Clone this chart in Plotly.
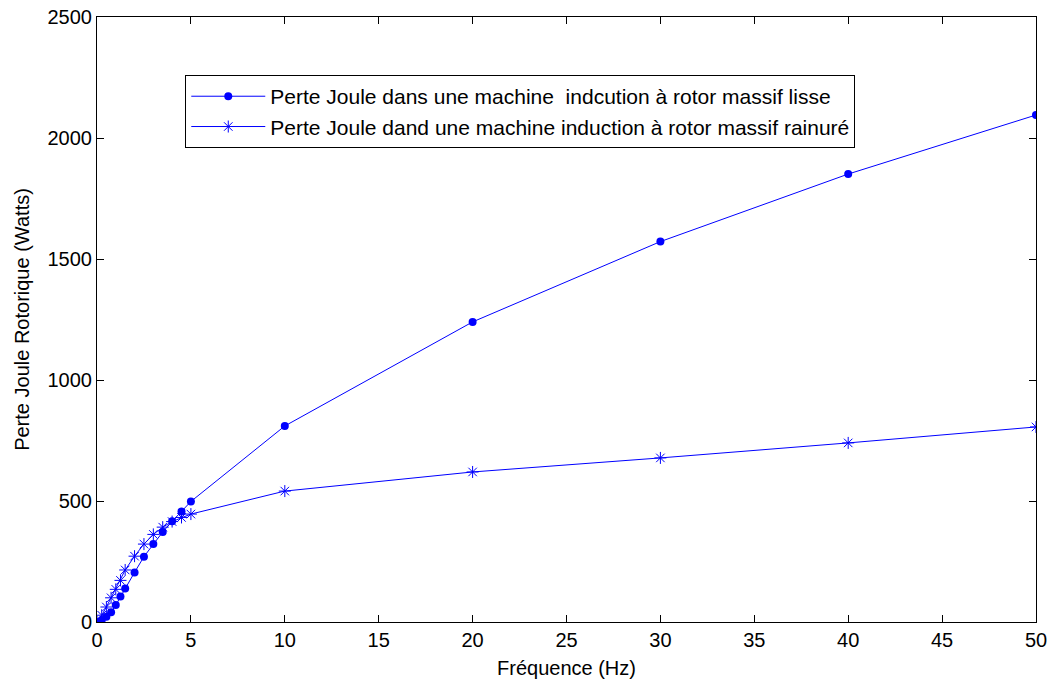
import plotly.graph_objects as go

freq = [0, 0.25, 0.5, 0.75, 1, 1.25, 1.5, 2, 2.5, 3, 3.5, 4, 4.5, 5, 10, 20, 30, 40, 50]
perte_lisse = [0, 8, 22, 40, 70, 105, 138, 205, 270, 322, 372, 416, 457, 498, 810, 1240, 1572, 1851, 2095]
perte_rainure = [0, 28, 62, 100, 135, 172, 215, 272, 322, 362, 392, 415, 432, 446, 541, 620, 678, 740, 806]

name_lisse = "Perte Joule dans une machine  indcution à rotor massif lisse"
name_rainure = "Perte Joule dand une machine induction à rotor massif rainuré"

blue = "rgb(0,0,255)"
fig = go.Figure()
fig.add_trace(go.Scatter(x=freq, y=perte_lisse, mode="lines+markers", name=name_lisse,
                         line=dict(color=blue, width=1),
                         marker=dict(symbol="circle", size=8, color=blue)))
fig.add_trace(go.Scatter(x=freq, y=perte_rainure, mode="lines+markers", name=name_rainure,
                         line=dict(color=blue, width=1),
                         marker=dict(symbol="asterisk-open", size=10, color=blue,
                                     line=dict(color=blue, width=1))))

FAM = "Liberation Sans, Arial, sans-serif"
font = dict(family=FAM, size=20, color="black")
axis_common = dict(showgrid=False, zeroline=False, showline=True, linecolor="black",
                   linewidth=1, mirror="ticks", ticks="inside", ticklen=7,
                   tickcolor="black", tickfont=font, automargin=False)
fig.update_xaxes(range=[0, 50], dtick=5, tick0=0,
                 title=dict(text="Fréquence (Hz)", font=font, standoff=10), **axis_common)
fig.update_yaxes(range=[0, 2500], dtick=500, tick0=0,
                 title=dict(text="Perte Joule Rotorique (Watts)", font=font, standoff=12),
                 **axis_common)
fig.update_layout(
    width=1050, height=682,
    margin=dict(l=97, r=14, t=17, b=60),
    plot_bgcolor="white", paper_bgcolor="white",
    font=font,
    legend=dict(x=0.094, y=0.904, xanchor="left", yanchor="top",
                bgcolor="white", bordercolor="black", borderwidth=1,
                font=dict(family=FAM, size=21, color="black"),
                itemwidth=74, tracegroupgap=0),
)
fig.write_html("out.html")
